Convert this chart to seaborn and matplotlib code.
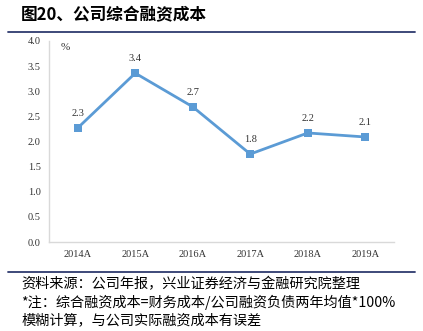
import matplotlib
matplotlib.use("Agg")
import matplotlib.pyplot as plt
import seaborn as sns
import pandas as pd

years = ["2014A", "2015A", "2016A", "2017A", "2018A", "2019A"]
values = [2.27, 3.36, 2.69, 1.75, 2.17, 2.09]
labels = ["2.3", "3.4", "2.7", "1.8", "2.2", "2.1"]
yticks = [0.0, 0.5, 1.0, 1.5, 2.0, 2.5, 3.0, 3.5, 4.0]

title = "图20、公司综合融资成本"
source = "资料来源：公司年报，兴业证券经济与金融研究院整理"
note1 = "*注：综合融资成本=财务成本/公司融资负债两年均值*100%"
note2 = "模糊计算，与公司实际融资成本有误差"

sns.set_theme(style="white")
plt.rcParams['font.family'] = ['Noto Sans CJK SC', 'DejaVu Sans']

df = pd.DataFrame({"year": years, "value": values})
W, H = 423, 331
fig = plt.figure(figsize=(W / 100, H / 100), dpi=100)
ax = fig.add_axes([49 / W, 1 - 242 / H, (394 - 49) / W, (242 - 41) / H])

color = "#5B9BD5"
sns.lineplot(data=df, x="year", y="value", ax=ax, color=color, linewidth=2,
             marker="s", markersize=5.5, markeredgewidth=0, sort=False)
for i, (v, t) in enumerate(zip(values, labels)):
    ax.text(i, v + 0.2, t, ha="center", va="bottom", fontsize=7.5,
            family="Liberation Serif", color="#333333")

ax.set_xlim(-0.5, len(years) - 0.5)
ax.set_ylim(0, 4)
ax.set_yticks(yticks)
ax.set_yticklabels([f"{t:.1f}" for t in yticks], family="Liberation Serif", fontsize=7.5, color="#333333")
ax.set_xticks(range(len(years)))
ax.set_xticklabels(years, family="Liberation Serif", fontsize=7.5, color="#333333")
ax.set_xlabel("")
ax.set_ylabel("")
ax.tick_params(axis="both", length=0, pad=6)
for s in ["top", "right"]:
    ax.spines[s].set_visible(False)
for s in ["left", "bottom"]:
    ax.spines[s].set_color("#D9D9D9")
    ax.spines[s].set_linewidth(1)
ax.text(65 / W, 1 - 47 / H, "%", transform=fig.transFigure, fontsize=8,
        family="Liberation Serif", color="#333333", ha="center", va="center")

navy = "#2E3A6E"
fig.text(21 / W, 1 - 15 / H, title, fontsize=12, fontweight="bold", va="center", ha="left", color="black")
fig.add_artist(plt.Line2D([8 / W, 415 / W], [1 - 32 / H, 1 - 32 / H], color=navy, linewidth=1.3, transform=fig.transFigure))
fig.add_artist(plt.Line2D([8 / W, 415 / W], [1 - 272 / H, 1 - 272 / H], color=navy, linewidth=1.3, transform=fig.transFigure))
fig.text(21 / W, 1 - 284 / H, source, fontsize=10.2, va="center", ha="left", color="black")
fig.text(21 / W, 1 - 302 / H, note1, fontsize=10.2, va="center", ha="left", color="black", style="italic")
fig.text(21 / W, 1 - 320 / H, note2, fontsize=10.2, va="center", ha="left", color="black", style="italic")

fig.savefig("out.png", dpi=100, facecolor="white")
